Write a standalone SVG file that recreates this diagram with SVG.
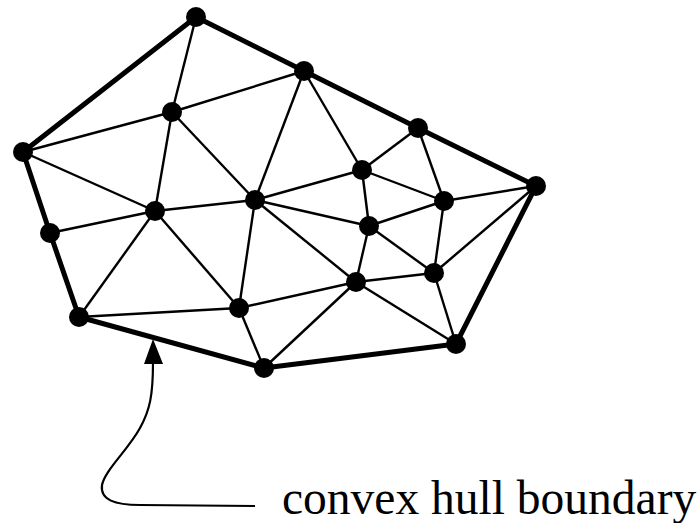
<svg xmlns="http://www.w3.org/2000/svg" width="698" height="523" viewBox="0 0 698 523">
<style>
.hull{stroke:#000;stroke-width:5;stroke-linecap:round;fill:none}
.edge{stroke:#000;stroke-width:2.4;fill:none}
.node{fill:#000}
.lbl{font-family:"Liberation Serif","Times New Roman",serif;font-size:47.5px;fill:#000}
</style>
<rect width="698" height="523" fill="#fff"/>
<g id="connectors">
<g class="edge">
<line x1="196" y1="17" x2="172" y2="112"/>
<line x1="172" y1="112" x2="304" y2="71"/>
<line x1="23" y1="152" x2="172" y2="112"/>
<line x1="23" y1="152" x2="155" y2="211"/>
<line x1="172" y1="112" x2="155" y2="211"/>
<line x1="172" y1="112" x2="255" y2="200"/>
<line x1="304" y1="71" x2="255" y2="200"/>
<line x1="50" y1="233" x2="155" y2="211"/>
<line x1="155" y1="211" x2="255" y2="200"/>
<line x1="255" y1="200" x2="362" y2="170"/>
<line x1="255" y1="200" x2="369" y2="226"/>
<line x1="255" y1="200" x2="356" y2="282"/>
<line x1="255" y1="200" x2="239" y2="308"/>
<line x1="155" y1="211" x2="239" y2="308"/>
<line x1="155" y1="211" x2="79" y2="317"/>
<line x1="304" y1="71" x2="362" y2="170"/>
<line x1="418" y1="128" x2="362" y2="170"/>
<line x1="418" y1="128" x2="444" y2="201"/>
<line x1="362" y1="170" x2="444" y2="201"/>
<line x1="362" y1="170" x2="369" y2="226"/>
<line x1="444" y1="201" x2="536" y2="186"/>
<line x1="444" y1="201" x2="369" y2="226"/>
<line x1="444" y1="201" x2="434" y2="273"/>
<line x1="536" y1="186" x2="434" y2="273"/>
<line x1="369" y1="226" x2="356" y2="282"/>
<line x1="369" y1="226" x2="434" y2="273"/>
<line x1="356" y1="282" x2="434" y2="273"/>
<line x1="356" y1="282" x2="456" y2="344"/>
<line x1="356" y1="282" x2="264" y2="368"/>
<line x1="356" y1="282" x2="239" y2="308"/>
<line x1="434" y1="273" x2="456" y2="344"/>
<line x1="239" y1="308" x2="264" y2="368"/>
<line x1="239" y1="308" x2="79" y2="317"/>
</g>
<polygon class="hull" points="196,17 304,71 418,128 536,186 456,344 264,368 79,317 50,233 23,152" stroke-linejoin="round"/>
<path d="M153,362 C153,395 150,410 140,428 C128,450 105,470 102,485 C100,500 115,505 140,505 L255,506" fill="none" stroke="#000" stroke-width="2.2"/>
<polygon points="153,339 144,364 163,364" fill="#000"/>
</g>
<g id="n1"><circle class="node" cx="196" cy="17" r="10"/></g>
<g id="n2"><circle class="node" cx="304" cy="71" r="10"/></g>
<g id="n3"><circle class="node" cx="172" cy="112" r="10"/></g>
<g id="n4"><circle class="node" cx="23" cy="152" r="10"/></g>
<g id="n5"><circle class="node" cx="418" cy="128" r="10"/></g>
<g id="n6"><circle class="node" cx="536" cy="186" r="10"/></g>
<g id="n7"><circle class="node" cx="362" cy="170" r="10"/></g>
<g id="n8"><circle class="node" cx="255" cy="200" r="10"/></g>
<g id="n9"><circle class="node" cx="155" cy="211" r="10"/></g>
<g id="n10"><circle class="node" cx="444" cy="201" r="10"/></g>
<g id="n11"><circle class="node" cx="50" cy="233" r="10"/></g>
<g id="n12"><circle class="node" cx="369" cy="226" r="10"/></g>
<g id="n13"><circle class="node" cx="434" cy="273" r="10"/></g>
<g id="n14"><circle class="node" cx="356" cy="282" r="10"/></g>
<g id="n15"><circle class="node" cx="239" cy="308" r="10"/></g>
<g id="n16"><circle class="node" cx="79" cy="317" r="10"/></g>
<g id="n17"><circle class="node" cx="264" cy="368" r="10"/></g>
<g id="n18"><circle class="node" cx="456" cy="344" r="10"/></g>
<g id="label"><text class="lbl" x="282" y="514">convex hull boundary</text></g>
</svg>
